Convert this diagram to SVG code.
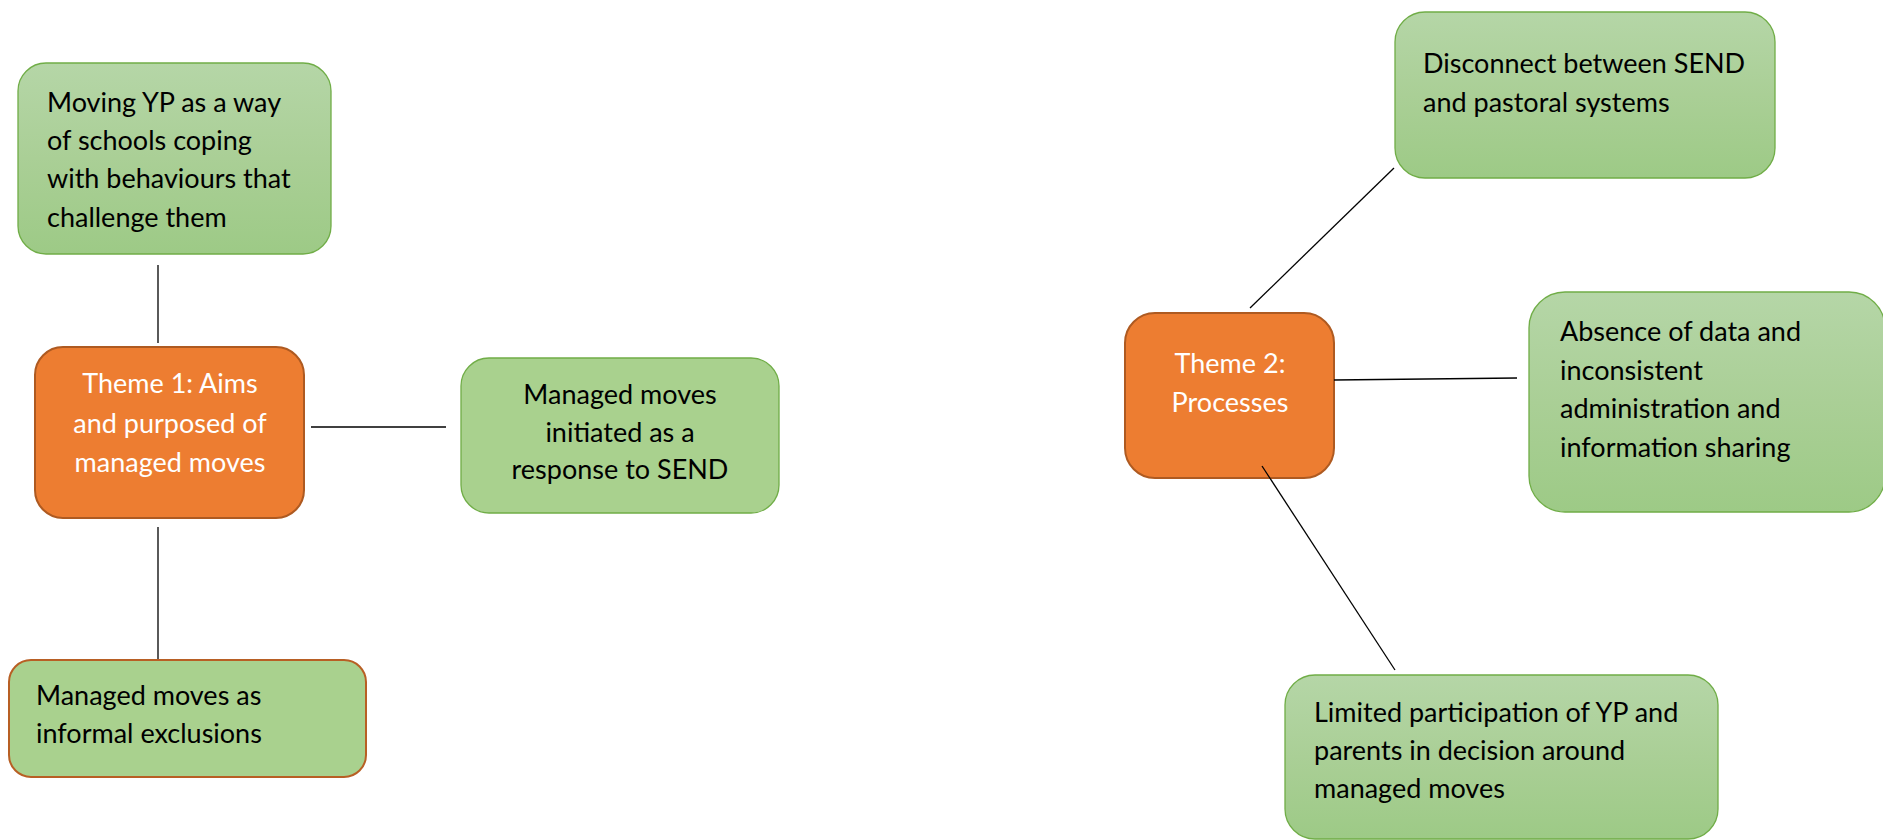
<svg xmlns="http://www.w3.org/2000/svg" width="1883" height="840" viewBox="0 0 1883 840">
  <style>
    .bg { fill: #ffffff; }
    .theme { fill: #ED7D31; stroke: #AE5A21; stroke-width: 2; }
    .leaf { fill: url(#greenGrad); stroke: #70AD47; stroke-width: 1.3; }
    .leaf-flat { fill: #A9D18E; stroke: #70AD47; stroke-width: 1.3; }
    .leaf-warm { fill: #A9D18E; stroke: #B85F24; stroke-width: 2; }
    .conn line { stroke: #000000; stroke-width: 1.3; }
    text { font-family: Lato, "Open Sans", "Liberation Sans", sans-serif; font-size: 27px; }
    .dark { fill: #000000; }
    .light { fill: #ffffff; }
    .mid { text-anchor: middle; }
  </style>
  <defs>
    <linearGradient id="greenGrad" x1="0" y1="0" x2="0" y2="1">
      <stop offset="0" stop-color="#B5D6A7"/>
      <stop offset="0.5" stop-color="#AACF96"/>
      <stop offset="1" stop-color="#9DCA86"/>
    </linearGradient>
  </defs>

  <rect class="bg" x="0" y="0" width="1883" height="840"/>

  <!-- Theme 1 cluster -->
  <g id="node-moving-yp">
    <rect class="leaf" x="18" y="63" width="313" height="191" rx="28"/>
    <text class="dark" x="47" y="112">Moving YP as a way</text>
    <text class="dark" x="47" y="150">of schools coping</text>
    <text class="dark" x="47" y="188">with behaviours that</text>
    <text class="dark" x="47" y="227">challenge them</text>
  </g>

  <g id="node-theme1">
    <rect class="theme" x="35" y="347" width="269" height="171" rx="28"/>
    <text class="light mid" x="170" y="393">Theme 1: Aims</text>
    <text class="light mid" x="170" y="433">and purposed of</text>
    <text class="light mid" x="170" y="472">managed moves</text>
  </g>

  <g id="node-send-response">
    <rect class="leaf-flat" x="461" y="358" width="318" height="155" rx="28"/>
    <text class="dark mid" x="620" y="404">Managed moves</text>
    <text class="dark mid" x="620" y="442">initiated as a</text>
    <text class="dark mid" x="620" y="479">response to SEND</text>
  </g>

  <g id="node-informal-exclusions">
    <rect class="leaf-warm" x="9" y="660" width="357" height="117" rx="22"/>
    <text class="dark" x="36" y="705">Managed moves as</text>
    <text class="dark" x="36" y="743">informal exclusions</text>
  </g>

  <!-- Theme 2 cluster -->
  <g id="node-disconnect">
    <rect class="leaf" x="1395" y="12" width="380" height="166" rx="30"/>
    <text class="dark" x="1423" y="73">Disconnect between SEND</text>
    <text class="dark" x="1423" y="112">and pastoral systems</text>
  </g>

  <g id="node-theme2">
    <rect class="theme" x="1125" y="313" width="209" height="165" rx="30"/>
    <text class="light mid" x="1230" y="373">Theme 2:</text>
    <text class="light mid" x="1230" y="412">Processes</text>
  </g>

  <g id="node-absence">
    <rect class="leaf" x="1529" y="292" width="356" height="220" rx="36"/>
    <text class="dark" x="1560" y="341">Absence of data and</text>
    <text class="dark" x="1560" y="380">inconsistent</text>
    <text class="dark" x="1560" y="418">administration and</text>
    <text class="dark" x="1560" y="457">information sharing</text>
  </g>

  <g id="node-participation">
    <rect class="leaf" x="1285" y="675" width="433" height="164" rx="30"/>
    <text class="dark" x="1314" y="722">Limited participation of YP and</text>
    <text class="dark" x="1314" y="760">parents in decision around</text>
    <text class="dark" x="1314" y="798">managed moves</text>
  </g>

  <!-- connectors, drawn over the node boxes -->
  <g id="connectors" class="conn">
    <line x1="158" y1="265" x2="158" y2="343"/>
    <line x1="311" y1="427" x2="446" y2="427"/>
    <line x1="158" y1="527" x2="158" y2="659"/>
    <line x1="1250" y1="308" x2="1394" y2="168"/>
    <line x1="1334" y1="380" x2="1517" y2="378"/>
    <line x1="1262" y1="466" x2="1395" y2="670"/>
  </g>
</svg>
